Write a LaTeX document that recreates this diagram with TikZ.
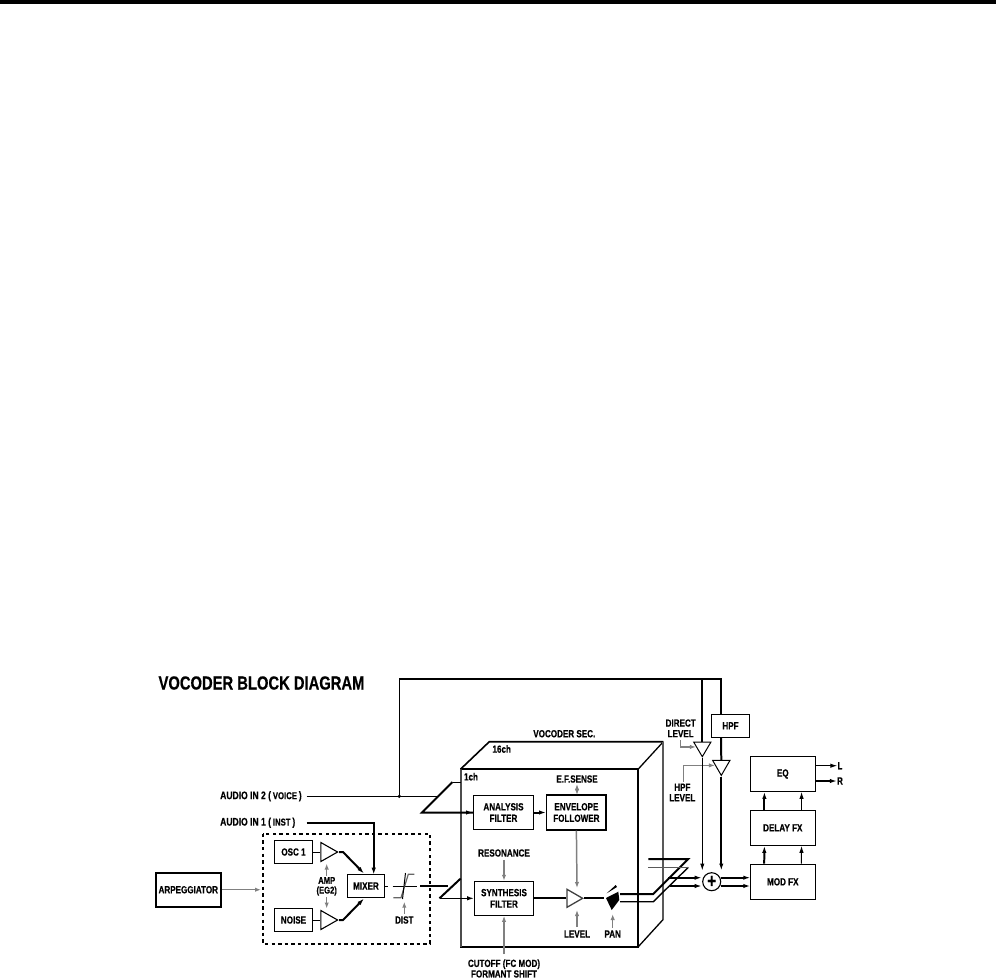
\documentclass[tikz,border=0pt]{standalone}
\usepackage{fontspec}
\setmainfont{Liberation Sans}[FakeStretch=0.78,BoldFeatures={FakeStretch=0.78,FakeBold=0.5}]
\usetikzlibrary{decorations,arrows.meta,shapes}
\definecolor{ctlgray}{gray}{0.5}
\tikzset{
  >={Latex[length=7bp,width=4.4bp]},
  label/.style={inner sep=0pt,align=center,font=\fontsize{10.4}{10.6}\selectfont\bfseries},
  blockbox/.style={draw,line width=1.1pt,inner sep=0pt,align=center,font=\fontsize{10.4}{11.5}\selectfont\bfseries},
  ampTri/.style={draw,isosceles triangle,isosceles triangle stretches,inner sep=0pt,line width=1.1pt,anchor=apex},
  sig/.style={->,line width=1pt},
  sigHeavy/.style={->,line width=2pt},
  plainSig/.style={line width=1pt},
  heavySig/.style={line width=2pt},
  ctl/.style={->,draw=ctlgray,line width=1.5pt,>={Latex[length=6bp,width=4.4bp]}},
}
\begin{document}
\begin{tikzpicture}[x=1bp,y=1bp]
\useasboundingbox (0,0) rectangle (996,-979);

\fill (0,0) rectangle (996,-3.5);
\node (title) at (261.5,-683)[inner sep=0pt,font=\fontsize{19}{19}\selectfont\bfseries] {VOCODER BLOCK DIAGRAM};

\node (arp) at (188.3,-889.7)[blockbox,line width=1.7pt,minimum width=65bp,minimum height=34bp] {ARPEGGIATOR};
\node (osc) at (293.5,-852)[blockbox,minimum width=38.4bp,minimum height=22.6bp] {OSC 1};
\node (noise) at (293.5,-920)[blockbox,minimum width=38.4bp,minimum height=22.6bp] {NOISE};
\node (mixer) at (366,-886)[blockbox,minimum width=37.4bp,minimum height=22.6bp] {MIXER};
\node (ampA) at (339,-852)[ampTri,minimum width=19bp,minimum height=16.7bp] {};
\node (ampB) at (339,-920)[ampTri,minimum width=19bp,minimum height=16.7bp] {};
\node (analysis) at (503.5,-812.5)[blockbox,line width=1.3pt,minimum width=59.6bp,minimum height=34bp] {ANALYSIS\\FILTER};
\node (envelope) at (576.4,-812.5)[blockbox,line width=1.3pt,minimum width=59.4bp,minimum height=35bp] {ENVELOPE\\FOLLOWER};
\node (synth) at (504,-898.3)[blockbox,minimum width=58.6bp,minimum height=34bp] {SYNTHESIS\\FILTER};
\node (level) at (584.3,-898.3)[ampTri,draw=black!75,line width=1.3pt,minimum width=18bp,minimum height=15.6bp] {};
\node (hpf) at (730.5,-725.8)[blockbox,minimum width=37.6bp,minimum height=23bp] {HPF};
\node (trimD) at (702.3,-758)[ampTri,shape border rotate=270,line width=1pt,minimum width=17.3bp,minimum height=14.7bp] {};
\node (trimH) at (721.3,-776.7)[ampTri,shape border rotate=270,line width=1pt,minimum width=17.3bp,minimum height=15bp] {};
\node (sum) at (711.7,-881.7)[draw,circle,line width=1.1pt,inner sep=0pt,minimum size=18bp,font=\fontsize{20}{20}\selectfont\bfseries] {+};
\node (modfx) at (782.8,-881.8)[blockbox,line width=1.5pt,minimum width=65bp,minimum height=35bp] {MOD FX};
\node (delay) at (782.8,-827.8)[blockbox,minimum width=65bp,minimum height=35bp] {DELAY FX};
\node (eq) at (782.8,-774)[blockbox,minimum width=65bp,minimum height=34.6bp] {EQ};

\node (inVoice) at (220,-796.3)[label,anchor=west,font=\fontsize{11}{11}\selectfont\bfseries] {AUDIO IN 2 (\,{\fontsize{10}{10}\selectfont VOICE}\,)};
\node (inInst) at (220,-822.7)[label,anchor=west,font=\fontsize{11}{11}\selectfont\bfseries] {AUDIO IN 1 (\,{\fontsize{10}{10}\selectfont INST}\,)};
\node (ampText) at (326.7,-886.3)[label,font=\fontsize{9.8}{9.8}\selectfont\bfseries] {AMP\\(EG2)};
\node (distText) at (404.3,-920)[label] {DIST};
\node (vocText) at (564.3,-733.7)[label] {VOCODER SEC.};
\node (chB) at (501.7,-749)[label] {16ch};
\node (chA) at (471,-776.7)[label] {1ch};
\node (sense) at (577,-779)[label] {E.F.SENSE};
\node (reso) at (504,-853)[label] {RESONANCE};
\node (levelText) at (577,-934)[label] {LEVEL};
\node (panText) at (612.7,-934)[label] {PAN};
\node (cutoff) at (504,-968.5)[label] {CUTOFF (FC MOD)\\FORMANT SHIFT};
\node (directText) at (680.7,-728.3)[label] {DIRECT\\LEVEL};
\node (hpfText) at (682.3,-792.5)[label] {HPF\\LEVEL};
\node (outL) at (840,-765.7)[label] {L};
\node (outR) at (840,-781)[label] {R};

\coordinate (voiceStart) at (306.7,-796.3);
\coordinate (voiceTap) at (399.3,-796.3);
\coordinate (voiceSlash) at (438,-796.3);
\coordinate (voiceTop) at (399.3,-679);
\coordinate (directTop) at (702.3,-679);
\coordinate (hpfTop) at (721,-679);
\coordinate (instStart) at (306.7,-822.7);
\coordinate (instCorner) at (373.7,-822.7);
\coordinate (instEnd) at (373.7,-874.7);
\coordinate (slashA) at (422,-812.5);
\coordinate (slashATop) at (452.5,-782);
\coordinate (wallA) at (460.7,-782);
\coordinate (slashB) at (439.5,-898.3);
\coordinate (wallB) at (460.7,-878.5);
\coordinate (distA) at (392.5,-886);
\coordinate (distB) at (416.7,-886);
\coordinate (mixOut) at (388.3,-886);
\coordinate (distOut) at (420,-886);
\coordinate (distIn) at (448,-886);
\coordinate (panIn) at (604,-898.3);

\draw [line width=1.7pt,dash pattern=on 3.4bp off 3.2bp] (262.7,-833.7) rectangle (430,-943.7);

\draw [line width=1.7pt] (460.7,-769) rectangle (638.3,-946.7);
\draw [line width=1.6pt,draw=black!70] (460.7,-769) -- (460.7,-946.7);
\draw [line width=1.6pt] (460.7,-769) -- (489.3,-741.7) -- (663.3,-741.7);
\draw [line width=1.3pt] (638.3,-769) -- (663.3,-741.7);
\draw [line width=1pt] (638.3,-769) -- (638.3,-946.7);
\draw [line width=1.9pt,draw=black!65] (663.3,-741.7) -- (663.3,-919.3);
\draw [line width=1.3pt] (663.3,-919.3) -- (638.3,-946.7);

\draw [ctl] (arp) -- (261,-889.7);
\draw [plainSig] (osc) -- (ampA.west);
\draw [plainSig] (noise) -- (ampB.west);
\draw [sigHeavy] (ampA.apex) -- ++(4,0) -- (364,-873.5);
\draw [sigHeavy] (ampB.apex) -- ++(4,0) -- (364,-898.5);
\draw [heavySig,->] (instStart) -- (instCorner) -- (instEnd);
\draw [plainSig] (voiceStart) -- (voiceSlash);
\fill (voiceTap) circle (1.8);
\draw [line width=1.5pt] (voiceTap) -- (voiceTop) -- (hpfTop) -- (hpf.north -| hpfTop);
\draw [heavySig] (directTop) -- (trimD.north);
\draw [heavySig] (hpf.south -| hpfTop) -- (trimH.north);
\draw [plainSig] (mixer.east) -- (mixOut);
\draw [plainSig] (distA) -- (distB);
\draw [heavySig] (distOut) -- (distIn);
\draw [line width=1.2pt,draw=black!60] (393.3,-897.7) -- (401,-897.7) -- (408.3,-874.3) -- (414.3,-874.3);
\draw [plainSig] (402.5,-899) -- (405.5,-873);
\draw [heavySig,line join=miter] (slashATop) -- (slashA) -- (analysis.west);
\draw [sig,line width=1.4pt] (slashA) -- (analysis.west);
\draw [plainSig] (slashATop) -- (wallA);
\draw [sigHeavy] (analysis.east) -- (envelope.west);
\draw [heavySig] (wallB) -- (slashB);
\draw [sig,line width=1.4pt] (slashB) -- (synth.west);
\draw [heavySig] (synth.east) -- (level.west);
\draw [heavySig] (level.apex) -- (panIn);

\fill (606,-898) -- (618.3,-891.7) -- (619.3,-900) -- (611.7,-910) -- cycle;
\fill (606.7,-893.3) -- (615.7,-885) -- (617,-887) -- cycle;

\draw [heavySig] (620,-894) -- (653.3,-894) -- (688.3,-859) -- (648.3,-859);
\draw [line width=1.4pt] (620,-901.7) -- (653.3,-901.7) -- (688.3,-867.3);
\draw [line width=1.4pt,draw=black!65] (688.3,-867.3) -- (648.3,-867.3);

\draw [ctl,<->] (577,-784) -- (577,-795);
\draw [ctl] (reso.south) ++(0,-3) -- (synth.north);
\draw [ctl] (envelope.south) -- (577,-888);
\draw [ctl] (cutoff.north) ++(0,5) -- (synth.south);
\draw [ctl] (levelText.north) ++(0,3) -- (577,-910);
\draw [ctl] (panText.north) ++(0,2) -- (612.7,-914);
\draw [ctl] (distText.north) ++(0,2) -- (404.3,-901.7);
\draw [ctl] (ampText.north) ++(0,1) -- (326.7,-863.5);
\draw [ctl] (ampText.south) ++(0,-1) -- (326.7,-908.5);
\draw [ctl] (680.7,-740) |- (trimD.west);
\draw [ctl] (683.3,-781.7) |- (trimH.west);

\draw [sig] (trimD.apex) -- (702.3,-870.5);
\draw [sigHeavy] (trimH.apex) -- (721.3,-870.5);
\draw [sigHeavy] (668.3,-877.7) -- (701.7,-877.7);
\draw [sigHeavy] (670,-886) -- (701.7,-886);
\draw [sigHeavy] (720.7,-877.7) -- (750.3,-877.7);
\draw [sigHeavy] (720.7,-886) -- (750.3,-886);
\draw [sigHeavy] ([xshift=14.7]modfx.north west) -- ([xshift=14.7]delay.south west);
\draw [sig] ([xshift=52]modfx.north west) -- ([xshift=52]delay.south west);
\draw [sigHeavy] ([xshift=14.7]delay.north west) -- ([xshift=14.7]eq.south west);
\draw [sig] ([xshift=52]delay.north west) -- ([xshift=52]eq.south west);
\draw [sig] (eq.east |- outL) -- (outL.west);
\draw [sigHeavy] (eq.east |- outR) -- (outR.west);
\end{tikzpicture}
\end{document}
